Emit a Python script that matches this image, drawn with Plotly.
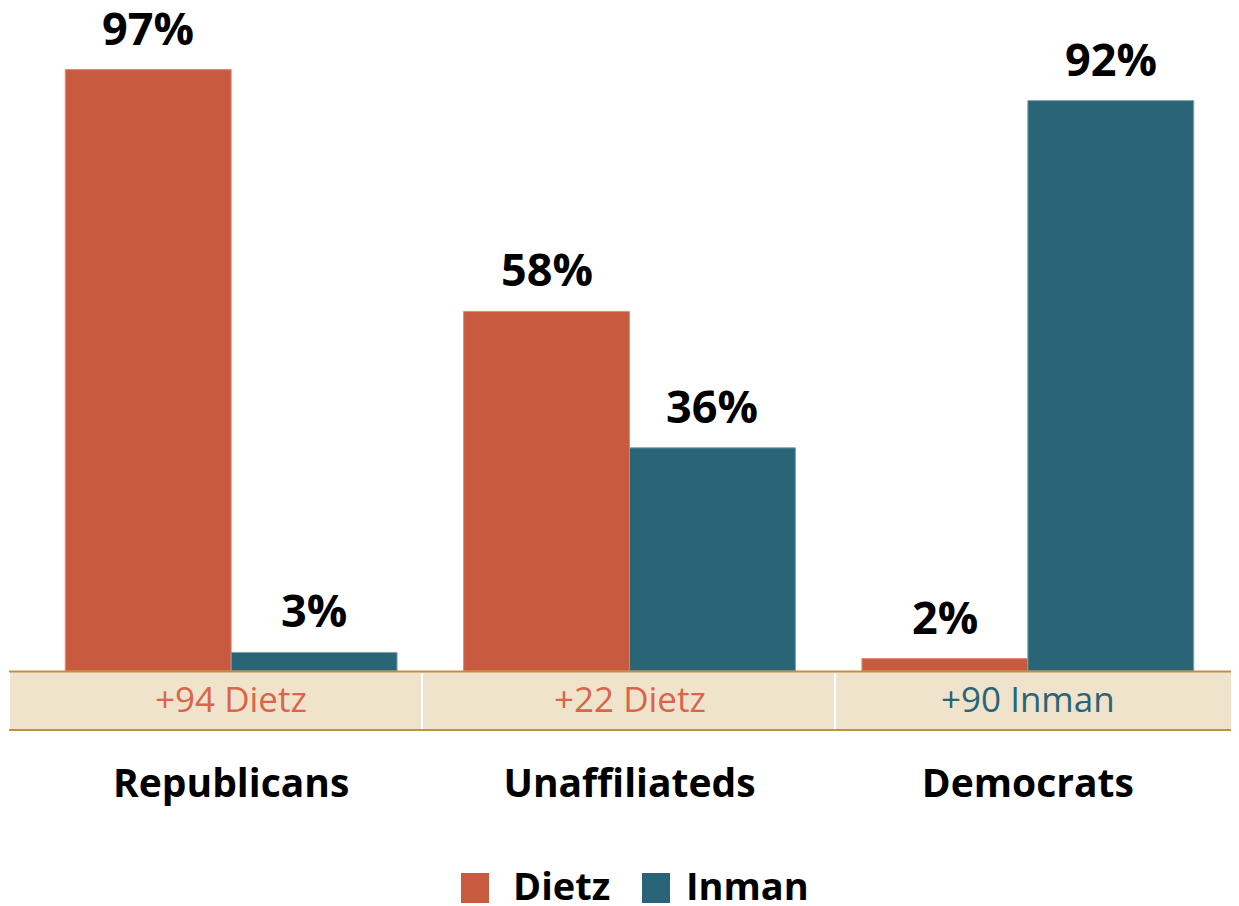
import plotly.graph_objects as go

categories = ["Republicans", "Unaffiliateds", "Democrats"]
dietz = [97, 58, 2]
inman = [3, 36, 92]
series_names = ["Dietz", "Inman"]

C_DIETZ = "#C85A40"
C_INMAN = "#2A6577"
C_DIETZ_TXT = "#D9654C"
C_BAND = "#EFE3CB"
C_BAND_LINE = "#C0913A"
FONT = "Open Sans"

OFF = 8  # page body margin
W, H = 1239 - OFF, 906 - OFF
ML, MR, MT, MB = 32 - OFF, 12, 51 - OFF, 235
BARGAP = 0.167


def px_x(p):
    return (p - OFF - ML) / (W - ML - MR)


def px_y(p):
    return (H + OFF - MB - p) / (H - MT - MB)


cat_px = (W - ML - MR) / len(categories)
half_bar = cat_px * (1 - BARGAP) / 4

fig = go.Figure()
annotations = []
for k, (name, vals, col, edge) in enumerate([
    (series_names[0], dietz, C_DIETZ, "#E08A74"),
    (series_names[1], inman, C_INMAN, "#7FA3AE"),
]):
    fig.add_trace(go.Bar(
        x=categories, y=vals, name=name,
        marker=dict(color=col, line=dict(color=edge, width=1)),
        cliponaxis=False, showlegend=False,
    ))
    for cat, v in zip(categories, vals):
        annotations.append(dict(
            x=cat, xref="x", y=v, yref="y", text=f"<b>{v}%</b>",
            showarrow=False, xanchor="center", yanchor="bottom",
            xshift=(-1 if k == 0 else 1) * half_bar, yshift=10,
            font=dict(family=FONT, size=45, color="black")))

shapes = []
shapes.append(dict(type="rect", xref="paper", yref="paper",
                   x0=px_x(10), x1=px_x(1239), y0=px_y(730), y1=px_y(671.5),
                   fillcolor=C_BAND, line=dict(width=0), layer="below"))
for yy in (671.5, 730):
    shapes.append(dict(type="line", xref="paper", yref="paper",
                       x0=px_x(9), x1=px_x(1239), y0=px_y(yy), y1=px_y(yy),
                       line=dict(color=C_BAND_LINE, width=2)))
for xx in (422, 835):
    shapes.append(dict(type="line", xref="paper", yref="paper",
                       x0=px_x(xx), x1=px_x(xx), y0=px_y(729), y1=px_y(673),
                       line=dict(color="white", width=2)))

for cat, d, i in zip(categories, dietz, inman):
    diff = d - i
    winner = series_names[0] if diff > 0 else series_names[1]
    col = C_DIETZ_TXT if diff > 0 else C_INMAN
    annotations.append(dict(x=cat, xref="x", y=px_y(698), yref="paper",
                            text=f"+{abs(diff)} {winner}", showarrow=False,
                            font=dict(family=FONT, size=35, color=col),
                            xanchor="center", yanchor="middle"))

leg = [(series_names[0], C_DIETZ, 461, 511), (series_names[1], C_INMAN, 642, 684)]
for name, col, sx, tx in leg:
    shapes.append(dict(type="rect", xref="paper", yref="paper",
                       x0=px_x(sx), x1=px_x(sx + 28), y0=px_y(903), y1=px_y(873),
                       fillcolor=col, line=dict(width=0)))
    annotations.append(dict(x=px_x(tx), xref="paper", y=px_y(885), yref="paper",
                            text=f"<b>{name}</b>", showarrow=False,
                            font=dict(family=FONT, size=38, color="black"),
                            xanchor="left", yanchor="middle"))

fig.update_layout(
    width=W, height=H,
    margin=dict(l=ML, r=MR, t=MT, b=MB),
    paper_bgcolor="white", plot_bgcolor="white",
    barmode="group", bargap=BARGAP, bargroupgap=0,
    shapes=shapes, annotations=annotations,
    xaxis=dict(showgrid=False, zeroline=False, showline=False, ticks="",
               tickfont=dict(family=FONT, size=39, color="black", weight="bold"),
               ticklabelstandoff=86),
    yaxis=dict(range=[0, 100], visible=False, showgrid=False, zeroline=False),
)

fig.write_html("out.html")
